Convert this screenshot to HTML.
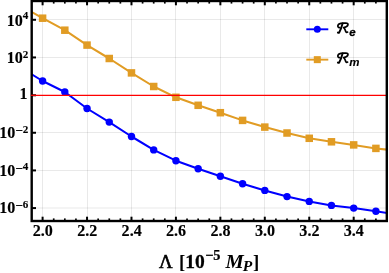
<!DOCTYPE html>
<html><head><meta charset="utf-8"><title>plot</title>
<style>html,body{margin:0;padding:0;background:#fff;}svg{display:block;will-change:transform;}text{font-family:"Liberation Serif",serif;font-weight:bold;fill:#000;}.ls{font-family:"Liberation Sans",sans-serif;font-style:italic;font-weight:normal;}</style>
</head><body>
<svg width="389" height="273" viewBox="0 0 389 273">
<rect x="0" y="0" width="389" height="273" fill="#fff"/>
<defs><clipPath id="cp"><rect x="31.7" y="1.0" width="355.1" height="220.0"/></clipPath></defs>
<g stroke="#000" stroke-opacity="0.085" stroke-width="1" fill="none">
<line x1="42.50" y1="1.0" x2="42.50" y2="221.0"/>
<line x1="87.50" y1="1.0" x2="87.50" y2="221.0"/>
<line x1="131.50" y1="1.0" x2="131.50" y2="221.0"/>
<line x1="175.50" y1="1.0" x2="175.50" y2="221.0"/>
<line x1="220.50" y1="1.0" x2="220.50" y2="221.0"/>
<line x1="264.50" y1="1.0" x2="264.50" y2="221.0"/>
<line x1="309.50" y1="1.0" x2="309.50" y2="221.0"/>
<line x1="353.50" y1="1.0" x2="353.50" y2="221.0"/>
<line x1="31.7" y1="19.50" x2="386.8" y2="19.50"/>
<line x1="31.7" y1="57.50" x2="386.8" y2="57.50"/>
<line x1="31.7" y1="132.50" x2="386.8" y2="132.50"/>
<line x1="31.7" y1="170.50" x2="386.8" y2="170.50"/>
<line x1="31.7" y1="208.00" x2="386.8" y2="208.00"/>
</g>
<g clip-path="url(#cp)">
<polyline points="20.38,67.40 42.60,81.00 64.82,92.00 87.04,108.50 109.26,122.10 131.48,136.50 153.70,149.90 175.92,160.70 198.14,168.80 220.36,176.30 242.58,183.70 264.80,190.40 287.02,196.60 309.24,201.40 331.46,205.40 353.68,208.10 375.90,211.30 398.12,214.60" fill="none" stroke="#0000ff" stroke-width="2.05" stroke-linejoin="round"/>
<circle cx="42.60" cy="81.00" r="3.7" fill="#0000ff"/>
<circle cx="64.82" cy="92.00" r="3.7" fill="#0000ff"/>
<circle cx="87.04" cy="108.50" r="3.7" fill="#0000ff"/>
<circle cx="109.26" cy="122.10" r="3.7" fill="#0000ff"/>
<circle cx="131.48" cy="136.50" r="3.7" fill="#0000ff"/>
<circle cx="153.70" cy="149.90" r="3.7" fill="#0000ff"/>
<circle cx="175.92" cy="160.70" r="3.7" fill="#0000ff"/>
<circle cx="198.14" cy="168.80" r="3.7" fill="#0000ff"/>
<circle cx="220.36" cy="176.30" r="3.7" fill="#0000ff"/>
<circle cx="242.58" cy="183.70" r="3.7" fill="#0000ff"/>
<circle cx="264.80" cy="190.40" r="3.7" fill="#0000ff"/>
<circle cx="287.02" cy="196.60" r="3.7" fill="#0000ff"/>
<circle cx="309.24" cy="201.40" r="3.7" fill="#0000ff"/>
<circle cx="331.46" cy="205.40" r="3.7" fill="#0000ff"/>
<circle cx="353.68" cy="208.10" r="3.7" fill="#0000ff"/>
<circle cx="375.90" cy="211.30" r="3.7" fill="#0000ff"/>
<polyline points="20.38,5.60 42.60,18.20 64.82,30.20 87.04,45.10 109.26,58.50 131.48,72.90 153.70,86.50 175.92,97.30 198.14,105.30 220.36,112.70 242.58,120.40 264.80,127.10 287.02,133.00 309.24,138.30 331.46,141.80 353.68,144.90 375.90,148.40 398.12,150.90" fill="none" stroke="#e19c24" stroke-width="2.05" stroke-linejoin="round"/>
<rect x="38.85" y="14.45" width="7.5" height="7.5" fill="#e19c24"/>
<rect x="61.07" y="26.45" width="7.5" height="7.5" fill="#e19c24"/>
<rect x="83.29" y="41.35" width="7.5" height="7.5" fill="#e19c24"/>
<rect x="105.51" y="54.75" width="7.5" height="7.5" fill="#e19c24"/>
<rect x="127.73" y="69.15" width="7.5" height="7.5" fill="#e19c24"/>
<rect x="149.95" y="82.75" width="7.5" height="7.5" fill="#e19c24"/>
<rect x="172.17" y="93.55" width="7.5" height="7.5" fill="#e19c24"/>
<rect x="194.39" y="101.55" width="7.5" height="7.5" fill="#e19c24"/>
<rect x="216.61" y="108.95" width="7.5" height="7.5" fill="#e19c24"/>
<rect x="238.83" y="116.65" width="7.5" height="7.5" fill="#e19c24"/>
<rect x="261.05" y="123.35" width="7.5" height="7.5" fill="#e19c24"/>
<rect x="283.27" y="129.25" width="7.5" height="7.5" fill="#e19c24"/>
<rect x="305.49" y="134.55" width="7.5" height="7.5" fill="#e19c24"/>
<rect x="327.71" y="138.05" width="7.5" height="7.5" fill="#e19c24"/>
<rect x="349.93" y="141.15" width="7.5" height="7.5" fill="#e19c24"/>
<rect x="372.15" y="144.65" width="7.5" height="7.5" fill="#e19c24"/>
<line x1="28.7" y1="95.3" x2="389.8" y2="95.3" stroke="#ff0000" stroke-width="1.25"/>
</g>
<g stroke="#000" fill="none">
<line x1="42.60" y1="221.0" x2="42.60" y2="216.7" stroke-width="2.0"/>
<line x1="42.60" y1="1.0" x2="42.60" y2="5.3" stroke-width="2.0"/>
<line x1="53.71" y1="221.0" x2="53.71" y2="218.4" stroke-width="1.7"/>
<line x1="53.71" y1="1.0" x2="53.71" y2="3.6" stroke-width="1.7"/>
<line x1="64.82" y1="221.0" x2="64.82" y2="218.4" stroke-width="1.7"/>
<line x1="64.82" y1="1.0" x2="64.82" y2="3.6" stroke-width="1.7"/>
<line x1="75.93" y1="221.0" x2="75.93" y2="218.4" stroke-width="1.7"/>
<line x1="75.93" y1="1.0" x2="75.93" y2="3.6" stroke-width="1.7"/>
<line x1="87.04" y1="221.0" x2="87.04" y2="216.7" stroke-width="2.0"/>
<line x1="87.04" y1="1.0" x2="87.04" y2="5.3" stroke-width="2.0"/>
<line x1="98.15" y1="221.0" x2="98.15" y2="218.4" stroke-width="1.7"/>
<line x1="98.15" y1="1.0" x2="98.15" y2="3.6" stroke-width="1.7"/>
<line x1="109.26" y1="221.0" x2="109.26" y2="218.4" stroke-width="1.7"/>
<line x1="109.26" y1="1.0" x2="109.26" y2="3.6" stroke-width="1.7"/>
<line x1="120.37" y1="221.0" x2="120.37" y2="218.4" stroke-width="1.7"/>
<line x1="120.37" y1="1.0" x2="120.37" y2="3.6" stroke-width="1.7"/>
<line x1="131.48" y1="221.0" x2="131.48" y2="216.7" stroke-width="2.0"/>
<line x1="131.48" y1="1.0" x2="131.48" y2="5.3" stroke-width="2.0"/>
<line x1="142.59" y1="221.0" x2="142.59" y2="218.4" stroke-width="1.7"/>
<line x1="142.59" y1="1.0" x2="142.59" y2="3.6" stroke-width="1.7"/>
<line x1="153.70" y1="221.0" x2="153.70" y2="218.4" stroke-width="1.7"/>
<line x1="153.70" y1="1.0" x2="153.70" y2="3.6" stroke-width="1.7"/>
<line x1="164.81" y1="221.0" x2="164.81" y2="218.4" stroke-width="1.7"/>
<line x1="164.81" y1="1.0" x2="164.81" y2="3.6" stroke-width="1.7"/>
<line x1="175.92" y1="221.0" x2="175.92" y2="216.7" stroke-width="2.0"/>
<line x1="175.92" y1="1.0" x2="175.92" y2="5.3" stroke-width="2.0"/>
<line x1="187.03" y1="221.0" x2="187.03" y2="218.4" stroke-width="1.7"/>
<line x1="187.03" y1="1.0" x2="187.03" y2="3.6" stroke-width="1.7"/>
<line x1="198.14" y1="221.0" x2="198.14" y2="218.4" stroke-width="1.7"/>
<line x1="198.14" y1="1.0" x2="198.14" y2="3.6" stroke-width="1.7"/>
<line x1="209.25" y1="221.0" x2="209.25" y2="218.4" stroke-width="1.7"/>
<line x1="209.25" y1="1.0" x2="209.25" y2="3.6" stroke-width="1.7"/>
<line x1="220.36" y1="221.0" x2="220.36" y2="216.7" stroke-width="2.0"/>
<line x1="220.36" y1="1.0" x2="220.36" y2="5.3" stroke-width="2.0"/>
<line x1="231.47" y1="221.0" x2="231.47" y2="218.4" stroke-width="1.7"/>
<line x1="231.47" y1="1.0" x2="231.47" y2="3.6" stroke-width="1.7"/>
<line x1="242.58" y1="221.0" x2="242.58" y2="218.4" stroke-width="1.7"/>
<line x1="242.58" y1="1.0" x2="242.58" y2="3.6" stroke-width="1.7"/>
<line x1="253.69" y1="221.0" x2="253.69" y2="218.4" stroke-width="1.7"/>
<line x1="253.69" y1="1.0" x2="253.69" y2="3.6" stroke-width="1.7"/>
<line x1="264.80" y1="221.0" x2="264.80" y2="216.7" stroke-width="2.0"/>
<line x1="264.80" y1="1.0" x2="264.80" y2="5.3" stroke-width="2.0"/>
<line x1="275.91" y1="221.0" x2="275.91" y2="218.4" stroke-width="1.7"/>
<line x1="275.91" y1="1.0" x2="275.91" y2="3.6" stroke-width="1.7"/>
<line x1="287.02" y1="221.0" x2="287.02" y2="218.4" stroke-width="1.7"/>
<line x1="287.02" y1="1.0" x2="287.02" y2="3.6" stroke-width="1.7"/>
<line x1="298.13" y1="221.0" x2="298.13" y2="218.4" stroke-width="1.7"/>
<line x1="298.13" y1="1.0" x2="298.13" y2="3.6" stroke-width="1.7"/>
<line x1="309.24" y1="221.0" x2="309.24" y2="216.7" stroke-width="2.0"/>
<line x1="309.24" y1="1.0" x2="309.24" y2="5.3" stroke-width="2.0"/>
<line x1="320.35" y1="221.0" x2="320.35" y2="218.4" stroke-width="1.7"/>
<line x1="320.35" y1="1.0" x2="320.35" y2="3.6" stroke-width="1.7"/>
<line x1="331.46" y1="221.0" x2="331.46" y2="218.4" stroke-width="1.7"/>
<line x1="331.46" y1="1.0" x2="331.46" y2="3.6" stroke-width="1.7"/>
<line x1="342.57" y1="221.0" x2="342.57" y2="218.4" stroke-width="1.7"/>
<line x1="342.57" y1="1.0" x2="342.57" y2="3.6" stroke-width="1.7"/>
<line x1="353.68" y1="221.0" x2="353.68" y2="216.7" stroke-width="2.0"/>
<line x1="353.68" y1="1.0" x2="353.68" y2="5.3" stroke-width="2.0"/>
<line x1="364.79" y1="221.0" x2="364.79" y2="218.4" stroke-width="1.7"/>
<line x1="364.79" y1="1.0" x2="364.79" y2="3.6" stroke-width="1.7"/>
<line x1="375.90" y1="221.0" x2="375.90" y2="218.4" stroke-width="1.7"/>
<line x1="375.90" y1="1.0" x2="375.90" y2="3.6" stroke-width="1.7"/>
<line x1="31.7" y1="19.78" x2="36.0" y2="19.78" stroke-width="2.0"/>
<line x1="31.7" y1="57.44" x2="36.0" y2="57.44" stroke-width="2.0"/>
<line x1="31.7" y1="95.30" x2="36.0" y2="95.30" stroke-width="2.0"/>
<line x1="31.7" y1="132.76" x2="36.0" y2="132.76" stroke-width="2.0"/>
<line x1="31.7" y1="170.42" x2="36.0" y2="170.42" stroke-width="2.0"/>
<line x1="31.7" y1="208.08" x2="36.0" y2="208.08" stroke-width="2.0"/>
</g>
<rect x="31.7" y="1.0" width="355.1" height="220.0" fill="none" stroke="#000" stroke-width="2.4"/>
<line x1="30.9" y1="95.3" x2="36.0" y2="95.3" stroke="#ff0000" stroke-width="1.25"/>
<text transform="translate(42.75,236.3) scale(1.02,1)" font-size="15.8" text-anchor="middle" stroke="#000" stroke-width="0.12">2.0</text>
<text transform="translate(87.19,236.3) scale(1.02,1)" font-size="15.8" text-anchor="middle" stroke="#000" stroke-width="0.12">2.2</text>
<text transform="translate(131.63,236.3) scale(1.02,1)" font-size="15.8" text-anchor="middle" stroke="#000" stroke-width="0.12">2.4</text>
<text transform="translate(176.07,236.3) scale(1.02,1)" font-size="15.8" text-anchor="middle" stroke="#000" stroke-width="0.12">2.6</text>
<text transform="translate(220.51,236.3) scale(1.02,1)" font-size="15.8" text-anchor="middle" stroke="#000" stroke-width="0.12">2.8</text>
<text transform="translate(264.95,236.3) scale(1.02,1)" font-size="15.8" text-anchor="middle" stroke="#000" stroke-width="0.12">3.0</text>
<text transform="translate(309.39,236.3) scale(1.02,1)" font-size="15.8" text-anchor="middle" stroke="#000" stroke-width="0.12">3.2</text>
<text transform="translate(353.83,236.3) scale(1.02,1)" font-size="15.8" text-anchor="middle" stroke="#000" stroke-width="0.12">3.4</text>
<text transform="translate(28.4,26) scale(1.02,1)" font-size="15.8" text-anchor="end" stroke="#000" stroke-width="0.12">10<tspan font-size="10.90" dy="-7">4</tspan></text>
<text transform="translate(28.4,63) scale(1.02,1)" font-size="15.8" text-anchor="end" stroke="#000" stroke-width="0.12">10<tspan font-size="10.90" dy="-5">2</tspan></text>
<text transform="translate(27.5,99) scale(1.02,1)" font-size="15.8" text-anchor="end" stroke="#000" stroke-width="0.12">1</text>
<text transform="translate(28.4,138) scale(1.02,1)" font-size="15.8" text-anchor="end" stroke="#000" stroke-width="0.12">10<tspan font-size="13.08" dy="-3">−</tspan><tspan font-size="10.90" dy="-2">2</tspan></text>
<text transform="translate(28.4,176) scale(1.02,1)" font-size="15.8" text-anchor="end" stroke="#000" stroke-width="0.12">10<tspan font-size="13.08" dy="-3">−</tspan><tspan font-size="10.90" dy="-3">4</tspan></text>
<text transform="translate(28.4,213) scale(1.02,1)" font-size="15.8" text-anchor="end" stroke="#000" stroke-width="0.12">10<tspan font-size="13.08" dy="-3">−</tspan><tspan font-size="10.90" dy="-2">6</tspan></text>
<text x="159.0" y="267.8" font-size="18.8" style="font-weight:normal" stroke="#000" stroke-width="0.65">Λ</text>
<text transform="translate(178.9,267.8) scale(1.0,1)" font-size="18.8">[</text>
<text transform="translate(185.3,267.8) scale(1.04,1)" font-size="18.8" stroke="#000" stroke-width="0.25">10</text>
<text transform="translate(205.2,260.2) scale(0.98,1)" font-size="14.6" stroke="#000" stroke-width="0.25">−5</text>
<text transform="translate(225.4,267.8) scale(1.07,1)" font-size="19.2" font-style="italic">M</text>
<text transform="translate(242.8,270.5) scale(1.08,1)" font-size="14.4" font-style="italic">P</text>
<text transform="translate(252.9,267.8) scale(1.0,1)" font-size="18.8">]</text>
<line x1="306.3" y1="29.30" x2="328.3" y2="29.30" stroke="#0000ff" stroke-width="1.9"/>
<circle cx="317.3" cy="29.30" r="3.5" fill="#0000ff"/>
<g transform="translate(336.9,22.40)" fill="none" stroke="#000" stroke-linecap="round" stroke-linejoin="round">
<path d="M5.7,1.0 C4.9,4.0 3.7,7.6 2.3,10.1 C2.0,10.6 1.3,10.6 1.0,10.1" stroke-width="1.9"/>
<path d="M2.9,5.2 C1.4,5.5 0.6,4.2 1.05,3.0 C1.6,1.5 3.4,0.7 6.0,0.7 L9.0,0.7 C10.6,0.7 11.4,1.5 11.0,2.7 C10.5,4.3 8.8,5.0 6.7,5.2 C7.8,5.6 8.2,7.3 8.7,8.7 C9.1,9.8 9.8,10.2 10.7,9.7" stroke-width="1.7"/>
</g>
<text class="ls" x="349.2" y="35.90" font-size="11.5" style="font-weight:bold" stroke="#000" stroke-width="0.3">e</text>
<line x1="306.3" y1="59.65" x2="328.3" y2="59.65" stroke="#e19c24" stroke-width="1.9"/>
<rect x="313.80" y="56.15" width="7.0" height="7.0" fill="#e19c24"/>
<g transform="translate(336.9,52.40)" fill="none" stroke="#000" stroke-linecap="round" stroke-linejoin="round">
<path d="M5.7,1.0 C4.9,4.0 3.7,7.6 2.3,10.1 C2.0,10.6 1.3,10.6 1.0,10.1" stroke-width="1.9"/>
<path d="M2.9,5.2 C1.4,5.5 0.6,4.2 1.05,3.0 C1.6,1.5 3.4,0.7 6.0,0.7 L9.0,0.7 C10.6,0.7 11.4,1.5 11.0,2.7 C10.5,4.3 8.8,5.0 6.7,5.2 C7.8,5.6 8.2,7.3 8.7,8.7 C9.1,9.8 9.8,10.2 10.7,9.7" stroke-width="1.7"/>
</g>
<text class="ls" x="349.2" y="65.90" font-size="11.5" style="font-weight:bold" stroke="#000" stroke-width="0.12">m</text>
</svg></body></html>
